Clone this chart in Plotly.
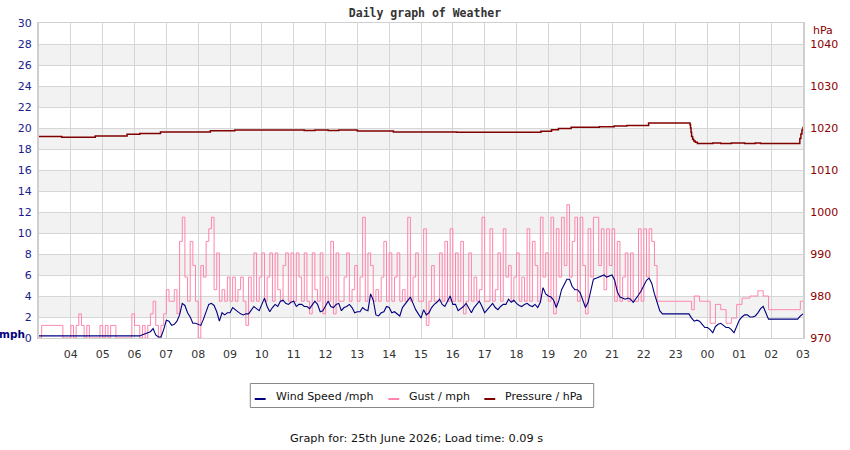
import pandas as pd
import plotly.graph_objects as go

START = "2026-06-24 03:00"

# Wind speed (mph), 5-minute samples, one row per hour starting 03:00
wind_mph = [
    0.2, 0.2, 0.2, 0.2, 0.2, 0.2, 0.2, 0.2, 0.2, 0.2, 0.2, 0.2,  # 03
    0.2, 0.2, 0.2, 0.2, 0.2, 0.2, 0.2, 0.2, 0.2, 0.2, 0.2, 0.2,  # 04
    0.2, 0.2, 0.2, 0.2, 0.2, 0.2, 0.2, 0.2, 0.2, 0.2, 0.2, 0.2,  # 05
    0.2, 0.2, 0.2, 0.3, 0.4, 0.5, 0.6, 0.9, 0.3, 0.1, 0.1, 0.8,  # 06
    1.7, 1.6, 1.2, 1.3, 1.6, 2.2, 3.3, 3.1, 2.4, 2.0, 1.4, 1.4,  # 07
    1.3, 1.2, 1.8, 2.6, 3.2, 3.3, 3.1, 2.5, 1.6, 2.4, 2.2, 2.4,  # 08
    2.4, 2.9, 2.7, 2.5, 2.3, 2.2, 2.3, 2.3, 2.7, 3.0, 2.8, 2.6,  # 09
    3.2, 3.8, 3.0, 2.5, 2.9, 3.2, 3.0, 3.5, 3.6, 3.3, 3.2, 3.4,  # 10
    3.5, 3.0, 3.2, 3.2, 3.0, 3.0, 2.8, 3.2, 3.5, 3.2, 2.5, 2.6,  # 11
    3.0, 3.5, 3.0, 2.9, 3.2, 3.3, 2.6, 2.9, 3.0, 3.2, 2.9, 2.4,  # 12
    2.5, 2.5, 2.9, 2.7, 2.6, 4.2, 3.6, 2.2, 2.1, 2.4, 2.5, 3.0,  # 13
    2.9, 2.4, 2.5, 2.3, 2.1, 2.9, 3.2, 3.6, 3.9, 3.3, 2.7, 2.3,  # 14
    1.9, 2.7, 2.2, 2.4, 2.9, 3.2, 3.4, 3.7, 3.2, 3.0, 3.5, 4.0,  # 15
    3.2, 3.2, 2.6, 2.8, 3.0, 3.3, 2.9, 2.4, 2.9, 3.2, 3.5, 3.0,  # 16
    2.4, 2.7, 3.0, 3.3, 2.9, 2.7, 3.0, 3.2, 3.2, 3.7, 3.4, 3.6,  # 17
    3.3, 3.1, 3.0, 3.2, 3.3, 3.1, 3.0, 3.2, 2.9, 3.4, 4.8, 4.2,  # 18
    4.0, 3.9, 3.6, 2.9, 3.6, 4.6, 5.1, 5.6, 5.6, 4.9, 4.6, 4.6,  # 19
    4.3, 3.6, 2.9, 3.4, 4.6, 5.6, 5.7, 5.8, 5.9, 6.0, 5.8, 5.9,  # 20
    6.0, 5.5, 4.4, 3.9, 3.8, 3.7, 3.8, 3.7, 3.4, 3.7, 4.1, 4.5,  # 21
    5.0, 5.5, 5.7, 5.2, 4.2, 3.4, 2.6, 2.3, 2.3, 2.3, 2.3, 2.3,  # 22
    2.3, 2.3, 2.3, 2.3, 2.3, 2.3, 1.9, 1.6, 1.7, 1.6, 1.3, 1.0,  # 23
    1.0, 0.8, 0.5, 1.1, 1.3, 1.4, 1.2, 1.0, 1.0, 0.8, 0.5, 1.1,  # 00
    1.7, 2.0, 2.2, 2.2, 2.0, 2.0, 2.1, 2.4, 2.8, 3.0, 2.4, 1.8,  # 01
    1.8, 1.8, 1.8, 1.8, 1.8, 1.8, 1.8, 1.8, 1.8, 1.8, 1.8, 2.1,  # 02
    2.3,                                                         # 03
]

# Gust (mph), same 5-minute samples
gust_mph = [
    0.0, 1.2, 1.2, 1.2, 1.2, 1.2, 1.2, 1.2, 1.2, 0.0, 0.0, 0.0,  # 03
    1.2, 0.0, 1.2, 2.3, 1.2, 0.0, 1.2, 0.0, 0.0, 0.0, 0.0, 1.2,  # 04
    0.0, 1.2, 0.0, 1.2, 1.2, 0.0, 0.0, 0.0, 0.0, 0.0, 0.0, 2.3,  # 05
    1.2, 1.2, 0.0, 1.2, 0.0, 1.2, 2.3, 3.5, 1.2, 0.0, 1.2, 2.3,  # 06
    4.6, 3.5, 3.5, 4.6, 2.3, 9.2, 11.5, 5.8, 3.5, 9.2, 6.9, 3.5,  # 07
    0.0, 6.9, 5.8, 9.2, 10.4, 11.5, 4.6, 8.1, 3.5, 4.6, 3.5, 5.8,  # 08
    3.5, 5.8, 3.5, 4.6, 5.8, 3.5, 1.2, 5.8, 3.5, 8.1, 3.5, 5.8,  # 09
    8.1, 3.5, 5.8, 8.1, 3.5, 8.1, 4.6, 3.5, 6.9, 8.1, 3.5, 8.1,  # 10
    3.5, 8.1, 5.8, 3.5, 8.1, 3.5, 2.3, 8.1, 4.6, 3.5, 8.1, 2.3,  # 11
    5.8, 3.5, 9.2, 2.3, 8.1, 3.5, 3.5, 5.8, 8.1, 3.5, 4.6, 6.9,  # 12
    3.5, 5.8, 11.5, 3.5, 8.1, 6.9, 3.5, 4.6, 3.5, 5.8, 9.2, 3.5,  # 13
    8.1, 3.5, 5.8, 8.1, 3.5, 4.6, 3.5, 11.5, 3.5, 5.8, 8.1, 3.5,  # 14
    3.5, 10.4, 1.2, 3.5, 6.9, 3.5, 3.5, 8.1, 3.5, 9.2, 3.5, 10.4,  # 15
    3.5, 8.1, 3.5, 9.2, 2.3, 3.5, 8.1, 3.5, 5.8, 3.5, 4.6, 11.5,  # 16
    3.5, 3.5, 10.4, 3.5, 4.6, 8.1, 3.5, 10.4, 5.8, 6.9, 3.5, 5.8,  # 17
    8.1, 3.5, 5.8, 3.5, 10.4, 3.5, 9.2, 6.9, 3.5, 11.5, 5.8, 8.1,  # 18
    3.5, 11.5, 2.3, 10.4, 5.8, 11.5, 6.9, 12.7, 5.8, 9.2, 11.5, 3.5,  # 19
    11.5, 6.9, 2.3, 10.4, 5.8, 11.5, 11.5, 6.9, 10.4, 4.6, 10.4, 6.9,  # 20
    10.4, 3.5, 9.2, 3.5, 5.8, 8.1, 3.5, 8.1, 3.5, 3.5, 10.4, 3.5,  # 21
    10.4, 5.8, 10.4, 9.2, 6.9, 3.5, 3.5, 3.5, 3.5, 3.5, 3.5, 3.5,  # 22
    3.5, 3.5, 3.5, 3.5, 3.5, 3.5, 2.7, 4.0, 4.0, 3.5, 3.5, 3.5,  # 23
    3.5, 1.4, 1.4, 3.2, 3.2, 2.7, 2.7, 1.4, 1.4, 1.9, 1.9, 3.2,  # 00
    3.2, 3.8, 3.8, 3.8, 4.0, 4.0, 4.0, 4.5, 4.5, 4.0, 4.0, 2.7,  # 01
    2.7, 2.7, 2.7, 2.7, 2.7, 2.7, 2.7, 2.7, 2.7, 2.7, 2.7, 3.5,  # 02
    3.5,                                                         # 03
]

# Pressure (hPa) at the times it changed
pressure_times = [
    "2026-06-24 03:00", "2026-06-24 03:43", "2026-06-24 04:46", "2026-06-24 05:46",
    "2026-06-24 06:10", "2026-06-24 06:49", "2026-06-24 08:23", "2026-06-24 09:09",
    "2026-06-24 11:20", "2026-06-24 11:40", "2026-06-24 12:05", "2026-06-24 12:25",
    "2026-06-24 13:00", "2026-06-24 14:08", "2026-06-24 16:07", "2026-06-24 18:46",
    "2026-06-24 19:06", "2026-06-24 19:19", "2026-06-24 19:43", "2026-06-24 20:36",
    "2026-06-24 21:04", "2026-06-24 21:28", "2026-06-24 22:09", "2026-06-24 23:25",
    "2026-06-24 23:27", "2026-06-24 23:28", "2026-06-24 23:29", "2026-06-24 23:30",
    "2026-06-24 23:32", "2026-06-24 23:34", "2026-06-24 23:37", "2026-06-24 23:41",
    "2026-06-25 00:10", "2026-06-25 00:25", "2026-06-25 00:45", "2026-06-25 01:10",
    "2026-06-25 01:30", "2026-06-25 01:40", "2026-06-25 02:52", "2026-06-25 02:54",
    "2026-06-25 02:56", "2026-06-25 02:58", "2026-06-25 03:00",
]
pressure_hpa = [
    1018.0, 1017.8, 1018.1, 1018.5,
    1018.7, 1019.05, 1019.35, 1019.5,
    1019.4, 1019.5, 1019.4, 1019.5,
    1019.3, 1019.05, 1019.0, 1019.2,
    1019.6, 1019.9, 1020.15, 1020.3,
    1020.5, 1020.6, 1021.2, 1021.2,
    1020.8, 1020.0, 1019.0, 1018.0,
    1017.3, 1016.9, 1016.6, 1016.3,
    1016.4, 1016.3, 1016.4, 1016.3,
    1016.4, 1016.3, 1016.3, 1017.5,
    1018.6, 1019.5, 1020.3,
]

tick_times = ["2026-06-24 %02d:00" % h for h in range(4, 24)] + \
             ["2026-06-25 %02d:00" % h for h in range(0, 4)]
tick_labels = ["04", "05", "06", "07", "08", "09", "10", "11", "12", "13", "14",
               "15", "16", "17", "18", "19", "20", "21", "22", "23", "00", "01",
               "02", "03"]

legend_names = ["Wind Speed /mph", "Gust / mph", "Pressure / hPa"]

times = pd.date_range(START, periods=len(wind_mph), freq="5min")

NAVY = "#000080"
PINK = "#ff85ab"
DRED = "#800000"
FONT = "DejaVu Sans"

# plot area in pixels (for placing decorations only)
L, R, T, B = 39, 811, 23, 338


def px(x):
    return (x - L) / (R - L)


def py(y):
    return (B - y) / (B - T)


fig = go.Figure()
fig.add_trace(go.Scatter(x=times, y=gust_mph, mode="lines", name=legend_names[1],
                         line=dict(color=PINK, width=1, shape="hv")))
fig.add_trace(go.Scatter(x=times, y=wind_mph, mode="lines", name=legend_names[0],
                         line=dict(color=NAVY, width=1.1)))
fig.add_trace(go.Scatter(x=pd.to_datetime(pressure_times), y=pressure_hpa, mode="lines",
                         name=legend_names[2], yaxis="y2",
                         line=dict(color=DRED, width=1.5, shape="hv")))

shapes = []
for lo in range(2, 30, 4):
    shapes.append(dict(type="rect", xref="paper", x0=0, x1=1, yref="y", y0=lo, y1=lo + 2,
                       fillcolor="#f2f2f2", line=dict(width=0), layer="below"))

# custom legend box (short line keys as in the original)
shapes.append(dict(type="rect", xref="paper", yref="paper", x0=px(252.5), x1=px(599.5),
                   y0=py(383.5), y1=py(407.5), line=dict(color="#888", width=1),
                   fillcolor="white"))
annotations = []
legend_items = [(257, 276, NAVY), (392, 411, PINK), (489, 508, DRED)]
for (kx, tx, col), name in zip(legend_items, legend_names):
    shapes.append(dict(type="line", xref="paper", yref="paper", x0=px(kx), x1=px(kx + 11),
                       y0=py(399), y1=py(399), line=dict(color=col, width=2)))
    annotations.append(dict(text=name, xref="paper", yref="paper", x=px(tx), y=py(396),
                            xanchor="left", yanchor="middle", showarrow=False,
                            font=dict(family=FONT, size=11, color="#111")))

annotations += [
    dict(text="<b>mph</b>", xref="paper", yref="paper", x=px(12), y=py(334),
         xanchor="center", yanchor="middle", showarrow=False,
         font=dict(family=FONT, size=10.5, color="#000080")),
    dict(text="hPa", xref="paper", yref="paper", x=px(831), y=py(30),
         xanchor="center", yanchor="middle", showarrow=False,
         font=dict(family=FONT, size=11, color="#8b0000")),
    dict(text="Graph for: 25th June 2026; Load time: 0.09 s", xref="paper",
         yref="paper", x=px(420.5), y=py(438),
         xanchor="center", yanchor="middle", showarrow=False,
         font=dict(family=FONT, size=11.3, color="#111")),
]

fig.update_layout(
    width=850, height=450,
    margin=dict(l=L, r=850 - R, t=T, b=450 - B),
    paper_bgcolor="white", plot_bgcolor="white",
    font=dict(family=FONT, size=11, color="#222"),
    title=dict(text="<b>Daily graph of Weather</b>", x=0.5, xanchor="center",
               y=1 - 13 / 450, yanchor="middle",
               font=dict(family="DejaVu Sans Mono", size=11.5, color="#333")),
    shapes=shapes,
    annotations=annotations,
    showlegend=False,
    hovermode=False,
    xaxis=dict(range=[pd.Timestamp("2026-06-24 03:00"), pd.Timestamp("2026-06-25 03:00")],
               tickvals=pd.to_datetime(tick_times), ticktext=tick_labels,
               showgrid=True, gridcolor="#d6d6d6", gridwidth=1,
               showline=True, linecolor="#d0d0d0", linewidth=1, mirror=True,
               zeroline=False, ticks="", ticklabelstandoff=6,
               tickfont=dict(family=FONT, size=11, color="#333")),
    yaxis=dict(range=[0, 30], dtick=2, showgrid=True, gridcolor="#d6d6d6", gridwidth=1,
               showline=True, linecolor="#cfcfcf", linewidth=2, zeroline=False,
               ticks="", ticklabelstandoff=3,
               tickfont=dict(family=FONT, size=11, color="#1c1c8c")),
    yaxis2=dict(range=[970, 1045], tickvals=[970, 980, 990, 1000, 1010, 1020, 1030, 1040],
                overlaying="y", side="right", showgrid=False, zeroline=False,
                showline=True, linecolor="#cfcfcf", linewidth=2,
                ticks="", ticklabelstandoff=3,
                tickfont=dict(family=FONT, size=11, color="#8b0000")),
)

fig.write_html("out.html")
